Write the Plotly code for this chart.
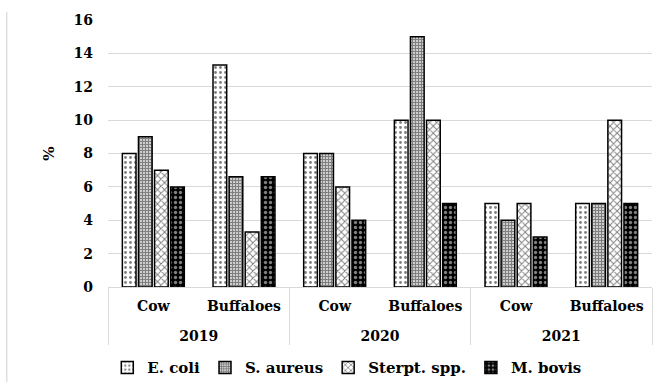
import plotly.graph_objects as go

# Sampling groups (outer = year, inner = host species)
years = ["2019", "2019", "2020", "2020", "2021", "2021"]
hosts = ["Cow", "Buffaloes", "Cow", "Buffaloes", "Cow", "Buffaloes"]

# Isolation rates (%) per pathogen
e_coli = [8, 13.3, 8, 10, 5, 5]
s_aureus = [9, 6.6, 8, 15, 4, 5]
strept_spp = [7, 3.3, 6, 10, 5, 10]
m_bovis = [6, 6.6, 4, 5, 3, 5]

y_ticks = [0, 2, 4, 6, 8, 10, 12, 14, 16]

series = [
    ("E. coli", e_coli, dict(shape=".", fgcolor="black", bgcolor="white", size=5, solidity=0.25)),
    ("S. aureus", s_aureus, dict(shape="+", fgcolor="black", bgcolor="white", size=3, solidity=0.7)),
    ("Sterpt. spp.", strept_spp, dict(shape="x", fgcolor="black", bgcolor="white", size=5, solidity=0.35)),
    ("M. bovis", m_bovis, dict(shape=".", fgcolor="white", bgcolor="black", size=5, solidity=0.35)),
]

serif = "DejaVu Serif"

# year row sits one line below the host row
year_labels = ["<br>" + y for y in years]

fig = go.Figure()
for name, vals, pat in series:
    fig.add_trace(go.Bar(
        name=name,
        x=[year_labels, hosts],
        y=vals,
        marker=dict(color=pat["bgcolor"], pattern=pat,
                    line=dict(color="black", width=1.5)),
    ))

# plot area spans x 108..652, y 20..287 px
fig.update_layout(
    width=659, height=382,
    margin=dict(l=108, r=7, t=20, b=95),
    paper_bgcolor="white", plot_bgcolor="white",
    barmode="group", bargap=0.29, bargroupgap=0.15,
    font=dict(family=serif, size=14, color="black", weight="bold"),
    showlegend=True,
    legend=dict(orientation="h", x=0.527, xanchor="center", xref="container",
                y=0.037, yanchor="middle", yref="container",
                font=dict(family=serif, size=15, weight="bold"), itemwidth=30,
                traceorder="normal"),
    yaxis=dict(range=[0, 16], tickvals=y_ticks, showgrid=True,
               gridcolor="#d9d9d9", gridwidth=1, zeroline=False,
               showline=False, ticks="", ticklabelstandoff=14,
               tickfont=dict(family=serif, size=14, weight="bold"),
               title=dict(text="%", standoff=15,
                          font=dict(family=serif, size=15, weight="bold"))),
    xaxis=dict(type="multicategory", showline=True, linecolor="#d9d9d9",
               linewidth=1, showdividers=True, dividercolor="#d9d9d9",
               dividerwidth=1, ticks="", ticklabelstandoff=6,
               tickfont=dict(family=serif, size=14, weight="bold")),
    shapes=[dict(type="line", xref="paper", yref="paper", x0=-0.186, x1=-0.186,
                 y0=-0.36, y1=1.03, line=dict(color="#cfcfcf", width=1))],
)

fig.write_html("out.html")
